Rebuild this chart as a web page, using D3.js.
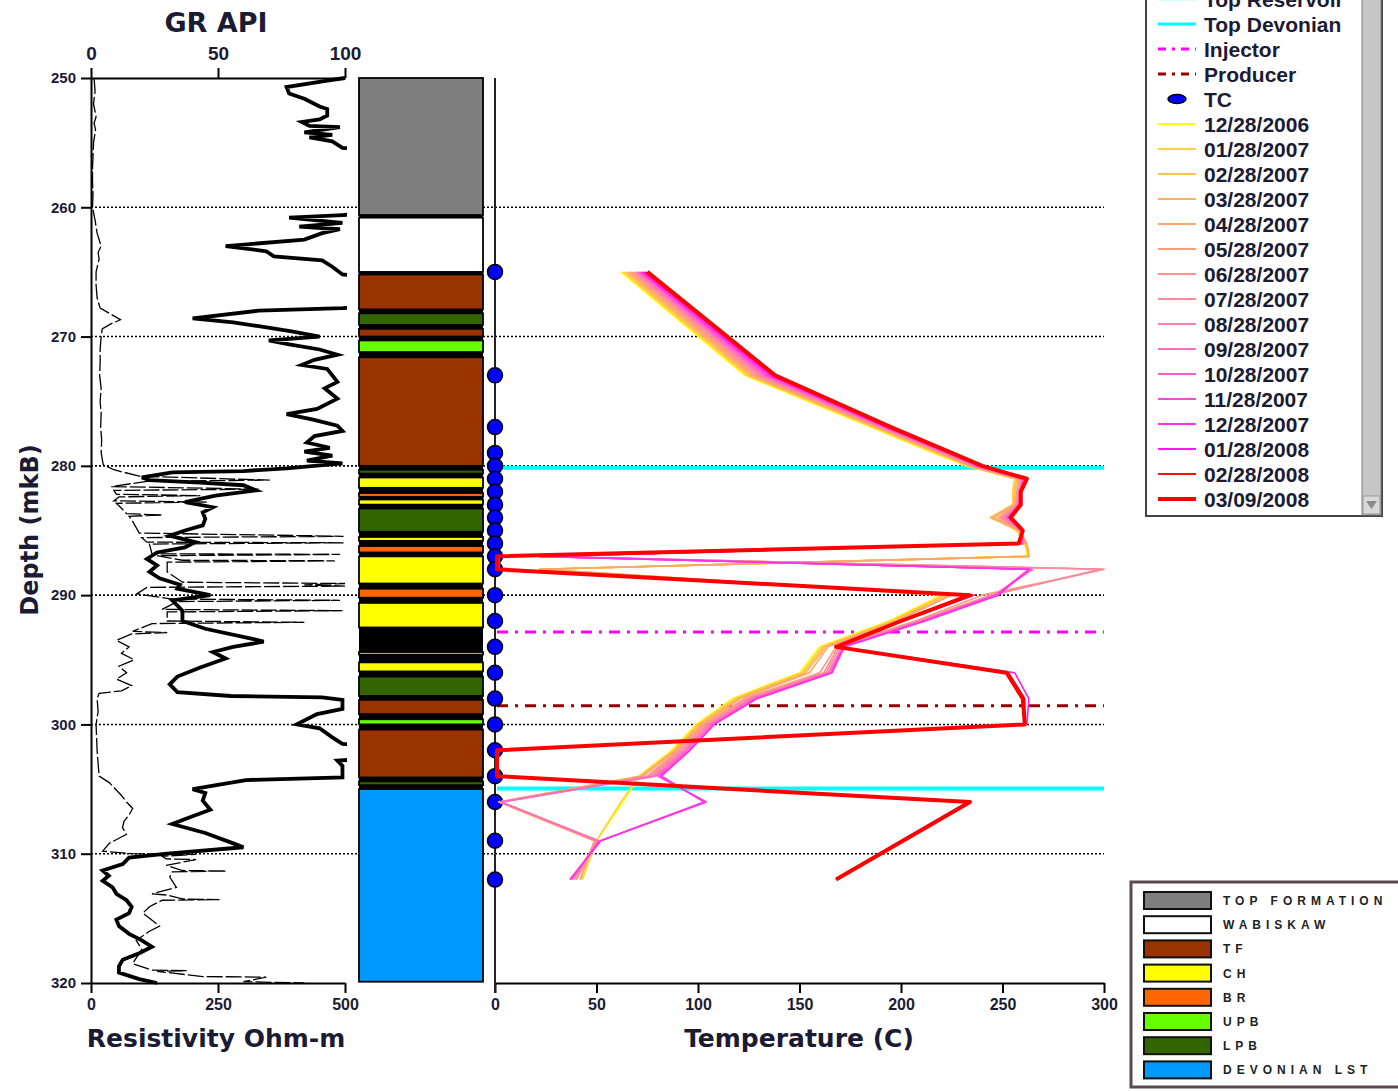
<!DOCTYPE html>
<html><head><meta charset="utf-8">
<script src="https://cdn.jsdelivr.net/npm/d3@7"></script>
<style>body{margin:0;background:#fff}svg{display:block}</style>
</head><body><svg id="c" width="1398" height="1091"></svg>
<script>
// ---------- data ----------
const depthTicks=[250,260,270,280,290,300,310,320];
const grTicks=[0,50,100];
const resTicks=[0,250,500];
const tempTicks=[0,50,100,150,200,250,300];

const grDepth=[250.0,250.2,250.7,251.2,251.6,252.2,252.4,252.9,253.2,253.4,253.7,253.8,254.2,254.4,254.6,254.9,255.4,255.6,260.4,260.6,260.8,261.2,261.5,261.7,262.0,262.5,263.0,263.4,263.8,264.1,264.6,265.2,265.4,267.6,267.8,268.0,268.6,268.9,269.2,269.6,270.0,270.3,270.6,271.0,271.4,271.8,272.2,272.5,273.0,273.5,274.0,274.8,275.6,276.0,276.4,276.9,277.3,277.7,278.2,278.6,278.9,279.2,279.6,279.8,280.2,280.4,280.5,280.9,281.1,281.3,281.5,281.9,282.3,282.8,283.2,283.6,284.1,284.6,285.0,285.4,285.9,286.3,286.7,287.2,287.7,288.2,288.7,289.2,289.5,290.0,290.4,291.2,292.0,292.6,293.4,293.6,294.0,294.4,294.9,295.6,296.3,296.9,297.5,297.8,297.9,298.1,298.8,299.2,300.0,300.3,301.0,301.5,301.7,302.6,302.8,303.2,304.1,304.3,305.0,305.3,305.9,306.6,307.1,307.7,308.4,309.2,309.5,310.0,310.3,310.8,311.3,311.7,312.1,312.6,313.1,313.6,314.1,314.6,315.1,315.6,316.2,316.7,317.2,317.7,318.2,318.7,319.2,319.7,320.0];
const grValue=[100,93,77,78,84,90,93,93,90,83,86,98,84,95,86,95,99,115,115,99,78,99,82,98,91,84,53,69,72,91,95,99,115,115,99,66,40,56,66,79,90,70,78,90,97,88,83,93,95,97,92,97,89,77,87,97,99,88,85,94,84,95,85,99,77,60,32,20,23,43,60,65,49,37,48,44,45,44,37,31,41,37,26,22,26,23,27,35,34,47,32,36,36,45,64,68,56,48,53,43,34,31,34,55,91,99,99,89,81,90,95,99,112,112,97,99,99,61,40,45,44,47,40,32,45,56,60,30,15,12.5,4.6,7,4.6,8.5,10,14,16,15,10,11,15,20,24,19,12.5,11,11,19,26];

const resDepth=[250.0,251.0,252.0,253.0,253.5,254.0,255.0,256.0,257.0,258.0,259.0,260.0,261.0,262.0,263.0,263.5,264.0,265.0,266.0,267.0,267.8,268.4,268.7,269.0,269.4,270.0,271.0,272.0,273.0,274.0,275.0,276.0,277.0,278.0,279.0,279.9,280.3,280.8,281.1,281.2,281.6,281.8,281.9,282.2,282.3,282.4,282.7,282.8,282.9,283.2,283.7,283.8,283.9,284.3,285.2,285.45,285.55,285.9,285.95,286.05,286.8,286.85,286.95,287.3,287.35,287.45,288.2,289.0,289.1,289.2,289.3,289.4,289.9,290.3,290.4,290.5,291.1,291.2,291.3,292.0,292.1,292.2,292.8,292.9,293.0,293.5,294.0,294.5,295.0,295.5,296.0,296.5,297.0,297.4,297.6,298.0,299.0,300.0,301.0,302.0,303.0,304.0,304.5,305.5,306.0,306.5,307.0,307.5,308.0,308.5,309.2,309.8,310.0,310.05,310.2,310.4,310.45,310.9,311.3,311.35,311.4,311.8,312.6,313.1,313.2,313.5,313.55,313.6,314.1,314.6,315.6,316.0,316.7,317.4,318.5,319.0,319.05,319.1,319.5,319.55,319.9,320.0];
const resValue=[6,8,5,10,6,9,5,4,3,3,4,3,8,12,20,14,16,10,10,12,18,45,58,40,22,20,18,18,17,20,18,20,19,21,20,24,45,95,352,110,40,330,45,50,215,55,45,228,50,58,70,140,75,82,95,497,100,110,497,115,120,490,130,180,480,150,150,180,500,420,500,110,90,160,490,170,140,495,150,150,420,120,82,150,80,50,75,60,85,55,70,50,80,60,16,12,14,10,11,12,14,16,36,60,70,82,75,65,62,70,36,23,80,207,140,148,207,148,180,266,160,155,168,120,150,180,253,140,115,102,135,115,89,100,82,120,188,130,220,345,300,420];

const lithNames=["TOP FORMATION","WABISKAW","TF","CH","BR","UPB","LPB","DEVONIAN LST"];
const lithColors=["#7f7f7f","#ffffff","#993300","#ffff00","#ff6600","#66ff00","#336600","#0099ff"];
const lithTop=[250.0,260.8,265.2,268.2,269.4,270.3,271.6,280.3,280.9,282.1,282.6,283.3,285.5,286.2,287.0,289.5,290.6,294.4,295.2,296.3,298.1,299.6,300.4,304.4,305.0];
const lithBase=[260.6,265.0,267.9,269.1,270.0,271.2,280.0,280.6,281.7,282.4,283.0,285.1,285.8,286.7,289.1,290.2,292.5,294.6,295.9,297.8,299.2,300.0,304.1,304.7,319.9];
const lithCode=["TOP FORMATION","WABISKAW","TF","LPB","TF","UPB","TF","LPB","CH","BR","CH","LPB","CH","BR","CH","BR","CH","CH","CH","LPB","TF","UPB","TF","LPB","DEVONIAN LST"];

const tcDepth=[265,273,277,279,280,281,282,283,284,285,286,287,288,290,292,294,296,298,300,302,304,306,309,312];
const dates=["12/28/2006","01/28/2007","02/28/2007","03/28/2007","04/28/2007","05/28/2007","06/28/2007","07/28/2007","08/28/2007","09/28/2007","10/28/2007","11/28/2007","12/28/2007","01/28/2008","02/28/2008","03/09/2008"];
const dateColors=["#ffff00","#ffd23c","#ffc34d","#ffb45a","#ffa56a","#ff9c7c","#ff9090","#ff88a0","#ff7cb0","#ff6cc0","#ff5ccc","#ff48da","#ff30e8","#ff18f4","#ff1010","#ff0000"];
const t20061228=[62,123,185,216,232,256,255,255,245,257,261,262,23,220,194,160,150,117,99,87,71,63,50,43];
const t20070128=[63,124,186,217,233,256,255,255,245,257,261,263,23,221,195,161,151,118,100,88,71,62,50,43];
const t20070228=[64,125,187,218,233,257,256,255,244,258,262,263,22,222,196,162,152,119,100,88,72,2,49,42];
const t20070328=[65,126,188,219,234,257,256,256,244,258,262,263,22,224,197,163,153,120,101,89,72,2,49,42];
const t20070428=[66,127,188,219,234,258,257,256,246,258,262,263,22,225,198,164,155,121,102,89,73,2,49,42];
const t20070528=[67,128,189,220,235,258,257,257,248,259,261,22,300,240,207,168,160,123,103,90,75,3,50,40];
const t20070628=[68,129,190,221,235,259,258,257,249,259,261,22,300,244,208,169,162,124,104,91,76,3,50,40];
const t20070728=[69,130,190,221,236,259,258,257,250,259,260,22,298,245,209,170,163,125,105,92,77,3,50,39];
const t20070828=[70,131,191,222,236,260,258,258,251,259,260,22,265,246,210,171,164,126,106,93,78,3,51,38];
const t20070928=[70,132,191,222,237,260,258,258,252,259,260,22,264,246,210,171,165,127,106,94,79,3,51,38];
const t20071028=[71,133,192,223,237,260,259,258,252,260,260,22,264,247,211,172,165,128,107,95,80,104,52,37];
const t20071128=[72,134,192,223,238,261,259,258,253,260,259,22,263,247,211,172,166,129,108,96,81,104,52,37];
const t20071228=[72,135,193,224,238,261,259,259,253,260,259,22,263,248,212,172,166,129,108,96,82,103,52,37];
const t20080128=[73,136,193,224,239,262,259,259,254,260,258,2,2,236,201,169,256,263,262,1,1,233,200,168];
const t20080228=[74,137,194,225,239,262,259,259,254,260,258,1,1,235,200,168,253,261,261,1,1,234,201,168];
const t20080309=[75,138,195,225,240,262,259,259,254,260,258,1,1,234,200,168,252,260,261,1,1,234,201,168];
const tempSeries=[t20061228,t20070128,t20070228,t20070328,t20070428,t20070528,t20070628,t20070728,t20070828,t20070928,t20071028,t20071128,t20071228,t20080128,t20080228,t20080309];

const markerNames=["Top Reservoir","Top Devonian","Injector","Producer"];
const markerDepth=[280.15,304.95,292.85,298.55];
const markerColors=["#00ffff","#00ffff","#ff00ff","#990000"];

// ---------- drawing ----------
const svg=d3.select("#c");
const TXT="#1b1b33";
const y=d3.scaleLinear().domain([250,320]).range([78,983]);
const xGR=d3.scaleLinear().domain([0,100]).range([91,345]);
const xRes=d3.scaleLinear().domain([0,500]).range([91,345]);
const xT=d3.scaleLinear().domain([0,300]).range([495,1104]);

const defs=svg.append("defs");
defs.append("clipPath").attr("id","clipL").append("rect").attr("x",91).attr("y",76).attr("width",256).attr("height",909);
defs.append("clipPath").attr("id","clipT").append("rect").attr("x",493).attr("y",76).attr("width",614).attr("height",909);

svg.append("rect").attr("width",1398).attr("height",1091).attr("fill","#fff");

// grid lines
svg.append("g").selectAll("line").data(depthTicks.filter(d=>d>250&&d<320)).join("line")
  .attr("x1",91).attr("x2",1104).attr("y1",d=>y(d)).attr("y2",d=>y(d))
  .attr("stroke","#000").attr("stroke-width",1.6).attr("stroke-dasharray","2,2");

// left log curves
const idxRes=d3.range(resDepth.length), idxGR=d3.range(grDepth.length);
svg.append("path").attr("clip-path","url(#clipL)")
  .attr("d",d3.line().x(i=>xRes(resValue[i])).y(i=>y(resDepth[i]))(idxRes))
  .attr("fill","none").attr("stroke","#000").attr("stroke-width",1.3).attr("stroke-dasharray","16,3");
svg.append("path").attr("clip-path","url(#clipL)")
  .attr("d",d3.line().x(i=>xGR(grValue[i])).y(i=>y(grDepth[i]))(idxGR))
  .attr("fill","none").attr("stroke","#000").attr("stroke-width",3.8).attr("stroke-linejoin","miter");

function styleAxis(g,size){
  g.select(".domain").attr("stroke","#000").attr("stroke-width",2);
  g.selectAll(".tick line").attr("stroke","#000").attr("stroke-width",2);
  g.selectAll("text").attr("font-family","Liberation Sans, Arial, sans-serif").attr("font-weight","bold")
   .attr("font-size",size).attr("fill",TXT);
}
styleAxis(svg.append("g").attr("transform","translate(91,0)")
  .call(d3.axisLeft(y).tickValues(depthTicks).tickSize(10).tickSizeOuter(0).tickPadding(5)),"15px");
styleAxis(svg.append("g").attr("transform","translate(0,78)")
  .call(d3.axisTop(xGR).tickValues(grTicks).tickSize(10).tickSizeOuter(0).tickPadding(8)),"19px");
styleAxis(svg.append("g").attr("transform","translate(0,983)")
  .call(d3.axisBottom(xRes).tickValues(resTicks).tickSize(10).tickSizeOuter(0).tickPadding(6)),"16px");
styleAxis(svg.append("g").attr("transform","translate(0,983)")
  .call(d3.axisBottom(xT).tickValues(tempTicks).tickSize(10).tickSizeOuter(0).tickPadding(6)),"16px");

// titles
const tf="DejaVu Sans, Verdana, sans-serif";
function title(t,x,yy,size,rot){
  const e=svg.append("text").attr("text-anchor","middle").attr("font-family",tf).attr("font-weight","bold")
    .attr("font-size",size).attr("fill",TXT).text(t);
  if(rot) e.attr("transform",`translate(${x},${yy}) rotate(-90)`); else e.attr("x",x).attr("y",yy);
}
title("GR API",216,32,27,false);
title("Resistivity Ohm-m",216,1047,25,false);
title("Temperature (C)",799,1047,25,false);
title("Depth (mkB)",38,530,24,true);

// lithology column
const colX=359, colW=124;
svg.append("rect").attr("x",colX).attr("y",y(260.6)).attr("width",colW).attr("height",y(305.0)-y(260.6)).attr("fill","#000");
svg.append("g").selectAll("rect").data(d3.range(lithTop.length)).join("rect")
  .attr("x",colX).attr("width",colW)
  .attr("y",i=>y(lithTop[i])).attr("height",i=>y(lithBase[i])-y(lithTop[i]))
  .attr("fill",i=>lithColors[lithNames.indexOf(lithCode[i])])
  .attr("stroke","#000").attr("stroke-width",1.8);

// horizontal markers
const mg=svg.append("g");
markerDepth.forEach((d,i)=>{
  mg.append("line").attr("x1",497).attr("x2",1104).attr("y1",y(d)).attr("y2",y(d))
    .attr("stroke",markerColors[i]).attr("stroke-width",i<2?4:3)
    .attr("stroke-dasharray",i<2?null:"11,7,3,7");
});

// TC axis + dots
svg.append("line").attr("x1",495).attr("x2",495).attr("y1",78).attr("y2",993).attr("stroke","#222").attr("stroke-width",2);
svg.append("g").selectAll("circle").data(tcDepth).join("circle")
  .attr("cx",xT(0)).attr("cy",d=>y(d)).attr("r",7.5)
  .attr("fill","#0000ff").attr("stroke","#000").attr("stroke-width",1.5);

// temperature profiles
const tg=svg.append("g").attr("clip-path","url(#clipT)");
tempSeries.forEach((vals,s)=>{
  tg.append("path")
    .attr("d",d3.line().x(i=>xT(vals[i])).y(i=>y(tcDepth[i]))(d3.range(tcDepth.length)))
    .attr("fill","none").attr("stroke",dateColors[s])
    .attr("stroke-width",s===tempSeries.length-1?4:1.6).attr("stroke-linejoin","round");
});

// top-right legend
const lg=svg.append("g");
lg.append("rect").attr("x",1146).attr("y",-20).attr("width",236).attr("height",536).attr("fill","#fff").attr("stroke","#444").attr("stroke-width",2);
lg.append("rect").attr("x",1362).attr("y",-20).attr("width",19).attr("height",535).attr("fill","#c6c6c6").attr("stroke","#7a7a7a").attr("stroke-width",1);
lg.append("rect").attr("x",1363).attr("y",496).attr("width",17).attr("height",18).attr("fill","#d8d8d8").attr("stroke","#9a9a9a");
lg.append("path").attr("d","M1366,501 L1377,501 L1371.5,509 Z").attr("fill","#8a8a8a");
const legLabels=markerNames.concat(["TC"]).concat(dates);
legLabels.forEach((lab,i)=>{
  const cy=-1+25*i;
  if(i<4){
    lg.append("line").attr("x1",1158).attr("x2",1196).attr("y1",cy).attr("y2",cy)
      .attr("stroke",i===0?"#a8ffff":markerColors[i]).attr("stroke-width",3)
      .attr("stroke-dasharray",i<2?null:"8,6,3,6");
  } else if(i===4){
    lg.append("ellipse").attr("cx",1177).attr("cy",cy).attr("rx",9).attr("ry",4.5).attr("fill","#0000ff").attr("stroke","#000").attr("stroke-width",1.5);
  } else {
    const s=i-5;
    lg.append("line").attr("x1",1158).attr("x2",1196).attr("y1",cy).attr("y2",cy)
      .attr("stroke",dateColors[s]).attr("stroke-width",s===dates.length-1?4:2);
  }
  lg.append("text").attr("x",1204).attr("y",cy+7.5).attr("font-family","Liberation Sans, Arial, sans-serif")
    .attr("font-weight","bold").attr("font-size",21).attr("fill",TXT).text(lab);
});

// bottom-right lithology legend
const bg=svg.append("g");
bg.append("rect").attr("x",1131).attr("y",882).attr("width",280).attr("height",205).attr("fill","#fff").attr("stroke","#5a4a4a").attr("stroke-width",3);
lithNames.forEach((n,i)=>{
  const ty=892+24.2*i;
  bg.append("rect").attr("x",1144).attr("y",ty).attr("width",67).attr("height",17).attr("fill",lithColors[i]).attr("stroke","#111").attr("stroke-width",2);
  bg.append("text").attr("x",1223).attr("y",ty+13).attr("font-family","Liberation Sans, Arial, sans-serif")
    .attr("font-weight","bold").attr("font-size",12).attr("letter-spacing","5px").attr("fill","#222").text(n);
});
</script></body></html>
